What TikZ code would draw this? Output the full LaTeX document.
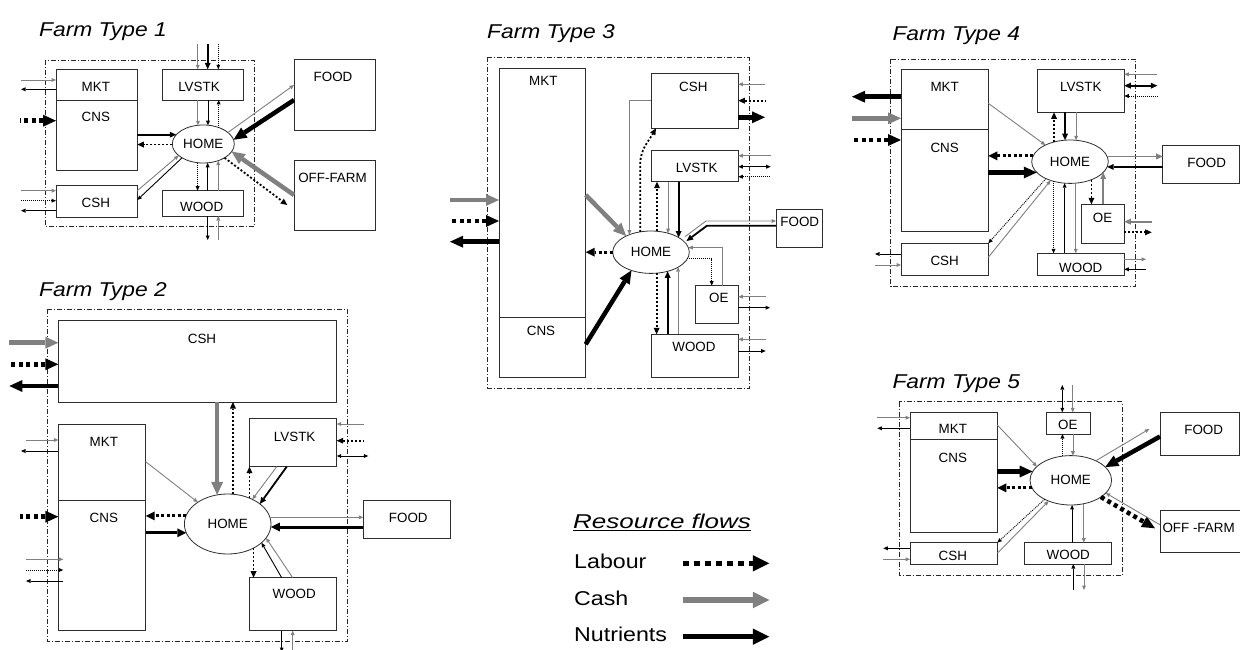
\documentclass[tikz,border=0pt]{standalone}
\usepackage{fontspec}
\setmainfont{Liberation Sans}
\usepackage{graphicx}
\usetikzlibrary{arrows.meta,shapes.geometric}
\definecolor{cashgrey}{RGB}{128,128,128}
\definecolor{boxline}{RGB}{45,45,45}
\newcommand{\boxfont}{\fontsize{13.4}{15}\selectfont}
\newcommand{\ttlfont}{\fontsize{20}{22}\selectfont\itshape}
\newcommand{\keyfont}{\fontsize{20}{22}\selectfont}
\tikzset{
  box/.style={draw=boxline, line width=0.8pt, inner sep=0pt, outer sep=0pt, anchor=north west},
  home/.style={draw=boxline, line width=0.8pt, ellipse, inner sep=0pt, outer sep=0pt, font=\boxfont},
  farm/.style={draw=black!85, line width=0.7pt, dash pattern=on 5pt off 2pt on 1pt off 2pt},
  lbl/.style={font=\boxfont, inner sep=0pt},
  ttl/.style={inner sep=0pt, anchor=base west},
  fine/.style={line width=0.9pt, >={Triangle[length=4.5pt,width=4pt,line width=0pt]}},
  mid/.style={line width=1.8pt, >={Triangle[length=6.5pt,width=6pt,line width=0pt]}},
  bold/.style={line width=3pt, >={Triangle[length=9pt,width=9pt,line width=0pt]}},
  heavy/.style={line width=4.5pt, >={Triangle[length=13pt,width=12pt,line width=0pt]}},
  huge/.style={line width=5.5pt, >={Triangle[length=16.5pt,width=16.5pt,line width=0pt]}},
  dots fine/.style={dash pattern=on 1pt off 1pt},
  dots mid/.style={dash pattern=on 2pt off 2pt},
  dots bold/.style={dash pattern=on 3pt off 2.5pt},
  dots heavy/.style={dash pattern=on 4pt off 3.5pt},
  dots huge/.style={dash pattern=on 6pt off 5pt},
  cash/.style={draw=cashgrey, #1},
  nut/.style={draw=black, #1},
  lab/.style={draw=black, #1, dots #1},
}
\begin{document}
\begin{tikzpicture}[x=1pt,y=1pt,yscale=-1,xscale=1]
\path[fill=white] (0,0) rectangle (1240,650);
\useasboundingbox (0,0) rectangle (1240,650);

% ---------------- Farm Type 1
\node[ttl] (title1) at (39,36.7) {\ttlfont\scalebox{1.14}[1]{Farm Type 1}};
\draw[farm] (45.7,60) rectangle (254,226.7);
\node[box, minimum width=81.3pt, minimum height=30.7pt] (mkt1) at (56,69.3) {};
\node[box, minimum width=81.3pt, minimum height=70.7pt] (cns1) at (mkt1.south west) {};
\node[box, minimum width=81pt, minimum height=30.7pt] (lvstk1) at (162.3,69.3) {};
\node[box, minimum width=81.3pt, minimum height=31.6pt] (csh1) at (56,185.7) {};
\node[box, minimum width=81pt, minimum height=25.3pt] (wood1) at (162.3,190.7) {};
\node[box, minimum width=81pt, minimum height=70.7pt] (food1) at (294,59.3) {};
\node[box, minimum width=81pt, minimum height=70pt] (off1) at (294,160.7) {};
\node[home, minimum width=62pt, minimum height=38pt] (home1) at (203.3,144) {HOME};
% Text Node
\node[lbl] (lmkt1) at (95.8,86.7) {MKT};
\node[lbl] (lcns1) at (95.8,116.7) {CNS};
\node[lbl] (llvstk1) at (199,86.7) {LVSTK};
\node[lbl] (lcsh1) at (95.8,202.7) {CSH};
\node[lbl] (lwood1) at (201.7,207) {WOOD};
\node[lbl] (lfood1) at (333,76.7) {FOOD};
\node[lbl] (loff1) at (332.5,177.7) {OFF-FARM};
% flows
\draw[cash=fine,<-] (mkt1.west |- 0,80) -- (21,80);
\draw[nut=fine,->] (mkt1.west |- 0,89.3) -- (21,89.3);
\draw[lab=heavy,<-] (cns1.west |- 0,120.7) -- (20,120.7);
\draw[cash=fine,<-] (csh1.west |- 0,190.7) -- (21,190.7);
\draw[lab=fine,<-] (csh1.west |- 0,200.7) -- (21,200.7);
\draw[nut=fine,->] (csh1.west |- 0,210.7) -- (21,210.7);
\draw[nut=mid,->] (cns1.east |- home1.161.8) -- (home1.161.8);
\draw[lab=mid,->] (home1.181.9) -- (cns1.east |- home1.181.9);
\draw[cash=fine,->] (csh1.east |- 0,190.7) -- (home1.205.5);
\draw[nut=fine,->] (home1.213) -- (csh1.east |- 0,200);
\draw[cash=fine,<-] (lvstk1.north -| 197.7,0) -- (197.7,44);
\draw[nut=mid,<-] (lvstk1.north -| 207.7,0) -- (207.7,44);
\draw[lab=fine,<-] (lvstk1.north -| 218.3,0) -- (218.3,44);
\draw[cash=fine,->] (lvstk1.south -| home1.106.7) -- (home1.106.7);
\draw[nut=fine,->] (lvstk1.south -| home1.76.8) -- (home1.76.8);
\draw[lab=fine,->] (home1.47.9) -- (lvstk1.south -| home1.47.9);
\draw[lab=fine,->] (home1.253.3) -- (wood1.north -| home1.253.3);
\draw[nut=fine,->] (wood1.north -| home1.283.2) -- (home1.283.2);
\draw[cash=fine,->] (wood1.north -| home1.312.1) -- (home1.312.1);
\draw[nut=fine,->] (wood1.south -| 207.7,0) -- (207.7,240);
\draw[cash=fine,<-] (wood1.south -| 218.3,0) -- (218.3,240);
\draw[cash=fine,->] (home1.25) -- (food1.west |- 0,85);
\draw[nut=heavy,->] (food1.west |- 0,100) -- (home1.8);
\draw[cash=heavy,->] (off1.west |- 0,195) -- (home1.345);
\draw[lab=mid,->] (home1.327) -- (287.3,205);

% ---------------- Farm Type 2
\node[ttl] (title2) at (39,296.7) {\ttlfont\scalebox{1.14}[1]{Farm Type 2}};
\draw[farm] (47.7,309.3) rectangle (347.3,641.7);
\node[box, minimum width=278.4pt, minimum height=81.3pt] (csh2) at (58.3,320.7) {};
\node[box, minimum width=87.4pt, minimum height=76pt] (mkt2) at (58.3,424) {};
\node[box, minimum width=87.4pt, minimum height=130pt] (cns2) at (mkt2.south west) {};
\node[box, minimum width=87.4pt, minimum height=48.4pt] (lvstk2) at (249.3,418.3) {};
\node[box, minimum width=87.4pt, minimum height=53pt] (wood2) at (249.3,577.7) {};
\node[box, minimum width=86.7pt, minimum height=38.3pt] (food2) at (363.3,500) {};
\node[home, minimum width=86.6pt, minimum height=60pt] (home2) at (227.7,524) {HOME};
% Text Node
\node[lbl] (lcsh2) at (202,339) {CSH};
\node[lbl] (lmkt2) at (103.8,442) {MKT};
\node[lbl] (lcns2) at (103.8,518) {CNS};
\node[lbl] (llvstk2) at (294.7,437) {LVSTK};
\node[lbl] (lwood2) at (294.2,593.5) {WOOD};
\node[lbl] (lfood2) at (408.3,517.8) {FOOD};
% flows
\draw[cash=heavy,<-] (csh2.west |- 0,342.7) -- (9.3,342.7);
\draw[lab=heavy,<-] (csh2.west |- 0,364.3) -- (9.3,364.3);
\draw[nut=heavy,->] (csh2.west |- 0,386) -- (9.3,386);
\draw[cash=fine,<-] (mkt2.west |- 0,440) -- (26,440);
\draw[nut=fine,->] (mkt2.west |- 0,451) -- (21,451);
\draw[lab=heavy,<-] (cns2.west |- 0,516.7) -- (20,516.7);
\draw[cash=fine,->] (26,559.3) -- (63.3,559.3);
\draw[lab=fine,->] (26,570) -- (63.3,570);
\draw[nut=fine,<-] (26,581) -- (63.3,581);
\draw[cash=fine,->] (mkt2.east |- 0,461.7) -- (home2.144);
\draw[lab=bold,->] (home2.169.1) -- (cns2.east |- home2.169.1);
\draw[nut=bold,->] (cns2.east |- home2.192.7) -- (home2.192.7);
\draw[cash=heavy,->] (csh2.south -| home2.110.4) -- (home2.110.4);
\draw[lab=mid,->] (home2.80.5) -- (csh2.south -| home2.80.5);
\draw[lab=mid,->] (home2.50.3) -- (lvstk2.south -| home2.50.3);
\draw[cash=fine,->] (lvstk2.south -| 276.7,0) -- (home2.45);
\draw[nut=mid,->] (lvstk2.south -| 286.7,0) -- (home2.32);
\draw[cash=fine,<-] (lvstk2.east |- 0,424) -- (364,424);
\draw[lab=mid,<-] (lvstk2.east |- 0,440.7) -- (364,440.7);
\draw[nut=fine,<->] (lvstk2.east |- 0,456) -- (368.3,456);
\draw[cash=fine,->] (home2.9.9) -- (food2.west |- home2.9.9);
\draw[nut=bold,->] (food2.west |- home2.356.4) -- (home2.356.4);
\draw[lab=mid,->] (home2.317.9) -- (wood2.north -| home2.317.9);
\draw[nut=fine,->] (wood2.north -| 281.7,0) -- (home2.331.7);
\draw[cash=fine,->] (wood2.north -| 292.7,0) -- (home2.340.3);
\draw[nut=fine,->] (wood2.south -| 281.7,0) -- (281.7,652);
\draw[cash=fine,<-] (wood2.south -| 292.7,0) -- (292.7,652);

% ---------------- Farm Type 3
\node[ttl] (title3) at (487,39) {\ttlfont\scalebox{1.14}[1]{Farm Type 3}};
\draw[farm] (487.7,57.3) rectangle (749,388.3);
\node[box, minimum width=86.7pt, minimum height=249.4pt] (mkt3) at (499,68.3) {};
\node[box, minimum width=86.7pt, minimum height=59.6pt] (cns3) at (mkt3.south west) {};
\node[box, minimum width=87.3pt, minimum height=55pt] (csh3) at (651,73.3) {};
\node[box, minimum width=87.3pt, minimum height=31.7pt] (lvstk3) at (651,150) {};
\node[box, minimum width=43.3pt, minimum height=37.6pt] (oe3) at (695,285.7) {};
\node[box, minimum width=87.3pt, minimum height=43.4pt] (wood3) at (651,334.3) {};
\node[box, minimum width=46.7pt, minimum height=38pt] (food3) at (776,209.3) {};
\node[home, minimum width=76.6pt, minimum height=42.4pt] (home3) at (651,252.2) {HOME};
% Text Node
\node[lbl] (lmkt3) at (543.3,81.3) {MKT};
\node[lbl] (lcns3) at (541,331.2) {CNS};
\node[lbl] (lcsh3) at (693.3,87.2) {CSH};
\node[lbl] (llvstk3) at (696.7,168) {LVSTK};
\node[lbl] (loe3) at (718.8,298.3) {OE};
\node[lbl] (lwood3) at (694,347) {WOOD};
\node[lbl] (lfood3) at (799.8,222) {FOOD};
% flows
\draw[cash=heavy,<-] (mkt3.west |- 0,200) -- (450,200);
\draw[lab=heavy,<-] (mkt3.west |- 0,221) -- (450,221);
\draw[nut=heavy,->] (mkt3.west |- 0,241.7) -- (450,241.7);
\draw[cash=heavy,->] (mkt3.east |- 0,195) -- (home3.147.1);
\draw[lab=bold,->] (home3.180) -- (mkt3.east |- home3.180);
\draw[nut=heavy,->] (cns3.east |- 0,344.3) -- (home3.223.2);
\draw[cash=fine,->] (csh3.west |- 0,100.7) -| (home3.141.1);
\draw[lab=mid,->] (home3.118.4) -- (home3.118.4 |- 0,165) to[out=-90,in=120] (csh3.south -| 656,0);
\draw[lab=mid,->] (home3.74.8) -- (lvstk3.south -| home3.74.8);
\draw[cash=fine,->] (lvstk3.south -| home3.48.8) -- (home3.48.8);
\draw[nut=mid,->] (lvstk3.south -| home3.28.6) -- (home3.28.6);
\draw[cash=fine,<-] (csh3.east |- 0,84.3) -- (765,84.3);
\draw[lab=mid,<-] (csh3.east |- 0,100.7) -- (765,100.7);
\draw[nut=heavy,->] (csh3.east |- 0,117.3) -- (765,117.3);
\draw[cash=fine,<-] (lvstk3.east |- 0,155.7) -- (770.7,155.7);
\draw[nut=fine,<->] (lvstk3.east |- 0,166.7) -- (770.7,166.7);
\draw[lab=fine,<-] (lvstk3.east |- 0,176.7) -- (770.7,176.7);
\draw[cash=fine,->] (685,236.7) -- (706,221) -- (food3.west |- 0,221);
\draw[nut=mid,->] (food3.west |- 0,225.7) -- (707,225.7) -- (686.5,241);
\draw[cash=fine,->] (oe3.north -| 722.7,0) |- (home3.7.5);
\draw[lab=fine,->] (home3.350.6) -| (oe3.north -| 711.7,0);
\draw[cash=fine,<-] (oe3.east |- 0,296.7) -- (765.7,296.7);
\draw[nut=fine,->] (oe3.east |- 0,307.7) -- (770,307.7);
\draw[lab=mid,->] (home3.285.2) -- (wood3.north -| home3.285.2);
\draw[nut=mid,->] (wood3.north -| home3.311.2) -- (home3.311.2);
\draw[cash=fine,->] (wood3.north -| home3.331.4) -- (home3.331.4);
\draw[cash=fine,<-] (wood3.east |- 0,339.3) -- (765.7,339.3);
\draw[nut=fine,->] (wood3.east |- 0,351) -- (765.7,351);

% ---------------- Farm Type 4
\node[ttl] (title4) at (892.3,40.5) {\ttlfont\scalebox{1.14}[1]{Farm Type 4}};
\draw[farm] (890.7,59) rectangle (1135.7,286.7);
\node[box, minimum width=87.3pt, minimum height=59.7pt] (mkt4) at (901,69.3) {};
\node[box, minimum width=87.3pt, minimum height=102.7pt] (cns4) at (mkt4.south west) {};
\node[box, minimum width=87.3pt, minimum height=31.7pt] (csh4) at (901,243.3) {};
\node[box, minimum width=87pt, minimum height=43pt] (lvstk4) at (1037.3,69.3) {};
\node[box, minimum width=43.3pt, minimum height=39pt] (oe4) at (1081,204.3) {};
\node[box, minimum width=87pt, minimum height=22.4pt] (wood4) at (1037.3,253.3) {};
\node[box, minimum width=76.8pt, minimum height=37.6pt] (food4) at (1162.7,145.7) {};
\node[home, minimum width=76.6pt, minimum height=43.4pt] (home4) at (1070,161.7) {HOME};
% Text Node
\node[lbl] (lmkt4) at (944.7,86.7) {MKT};
\node[lbl] (lcns4) at (944.7,147.7) {CNS};
\node[lbl] (lcsh4) at (944.7,260.5) {CSH};
\node[lbl] (llvstk4) at (1080.8,87) {LVSTK};
\node[lbl] (loe4) at (1102.5,218.3) {OE};
\node[lbl] (lwood4) at (1080.8,267.5) {WOOD};
\node[lbl] (lfood4) at (1206.7,163) {FOOD};
% flows
\draw[nut=heavy,->] (mkt4.west |- 0,96.7) -- (852,96.7);
\draw[cash=heavy,<-] (mkt4.west |- 0,118.3) -- (852,118.3);
\draw[lab=heavy,<-] (cns4.west |- 0,140) -- (852,140);
\draw[cash=fine,->] (mkt4.east |- 0,103.3) -- (home4.146);
\draw[lab=bold,->] (home4.171.2) -- (cns4.east |- home4.171.2);
\draw[nut=heavy,->] (cns4.east |- home4.198.4) -- (home4.198.4);
\draw[lab=fine,->] (home4.215.4) -- (csh4.north east);
\draw[cash=fine,->] (csh4.east |- 0,257.3) -- (home4.224.1);
\draw[nut=fine,->] (csh4.west |- 0,254) -- (875,254);
\draw[cash=fine,<-] (csh4.west |- 0,265) -- (875,265);
\draw[lab=mid,->] (home4.129.1) -- (lvstk4.south -| home4.129.1);
\draw[nut=mid,->] (lvstk4.south -| home4.103.1) -- (home4.103.1);
\draw[cash=fine,->] (lvstk4.south -| home4.74.3) -- (home4.74.3);
\draw[cash=fine,<-] (lvstk4.east |- 0,74.3) -- (1157.3,74.3);
\draw[nut=mid,<->] (lvstk4.east |- 0,85.7) -- (1157.3,85.7);
\draw[lab=fine,<-] (lvstk4.east |- 0,96) -- (1157.3,96);
\draw[cash=mid,->] (home4.8.8) -- (food4.west |- home4.8.8);
\draw[nut=mid,->] (food4.west |- home4.352.4) -- (home4.352.4);
\draw[lab=mid,->] (home4.320.5) -- (oe4.north -| home4.320.5);
\draw[cash=mid,->] (oe4.north -| home4.342.2) -- (home4.342.2);
\draw[cash=mid,<-] (oe4.east |- 0,221.7) -- (1151.7,221.7);
\draw[lab=mid,->] (oe4.east |- 0,232.3) -- (1151.7,232.3);
\draw[lab=fine,->] (home4.230.9) -- (wood4.north -| home4.230.9);
\draw[nut=fine,->] (wood4.north -| home4.256.9) -- (home4.256.9);
\draw[cash=fine,->] (home4.285.7) -- (wood4.north -| home4.285.7);
\draw[cash=fine,->] (wood4.east |- 0,259.3) -- (1146,259.3);
\draw[nut=fine,<-] (wood4.east |- 0,269.3) -- (1146,269.3);

% ---------------- Farm Type 5
\node[ttl] (title5) at (892.3,388.3) {\ttlfont\scalebox{1.14}[1]{Farm Type 5}};
\draw[farm] (899,401.7) rectangle (1122.3,575);
\node[box, minimum width=87.3pt, minimum height=27pt] (mkt5) at (910,412.3) {};
\node[box, minimum width=87.3pt, minimum height=93pt] (cns5) at (mkt5.south west) {};
\node[box, minimum width=87.3pt, minimum height=21.3pt] (csh5) at (910,542.7) {};
\node[box, minimum width=44pt, minimum height=21.7pt] (oe5) at (1046,412.3) {};
\node[box, minimum width=87.4pt, minimum height=21.3pt] (wood5) at (1024.3,542.7) {};
\node[box, minimum width=79pt, minimum height=43.4pt] (food5) at (1160,412.3) {};
\node[box, minimum width=85pt, minimum height=42pt] (off5) at (1160,510.7) {};
\node[home, minimum width=81.6pt, minimum height=49.4pt] (home5) at (1070.8,480.3) {HOME};
% Text Node
\node[lbl] (lmkt5) at (952.8,429) {MKT};
\node[lbl] (lcns5) at (952.8,458.3) {CNS};
\node[lbl] (lcsh5) at (952.8,555.7) {CSH};
\node[lbl] (loe5) at (1067.8,425) {OE};
\node[lbl] (lwood5) at (1068.3,555) {WOOD};
\node[lbl] (lfood5) at (1203.7,430.3) {FOOD};
\node[lbl, anchor=west] (loff5) at (1162.3,528) {OFF -FARM};
% flows
\draw[cash=fine,<-] (mkt5.west |- 0,417.7) -- (877.3,417.7);
\draw[nut=fine,->] (mkt5.west |- 0,428.3) -- (877.3,428.3);
\draw[cash=fine,->] (mkt5.east |- 0,425) -- (home5.158.2);
\draw[nut=heavy,->] (cns5.east |- home5.167.3) -- (home5.167.3);
\draw[lab=bold,->] (home5.191.7) -- (cns5.east |- home5.191.7);
\draw[lab=fine,->] (home5.216.3) -- (csh5.north east);
\draw[cash=fine,->] (csh5.east |- 0,553.3) -- (home5.223.8);
\draw[nut=fine,->] (csh5.west |- 0,548.3) -- (883.3,548.3);
\draw[cash=fine,<-] (csh5.west |- 0,559.3) -- (883.3,559.3);
\draw[nut=fine,<->] (oe5.north -| 1062.3,0) -- (1062.3,385);
\draw[cash=fine,<-] (oe5.north -| 1072.7,0) -- (1072.7,385);
\draw[lab=fine,->] (home5.109.4) -- (oe5.south -| home5.109.4);
\draw[cash=fine,->] (oe5.south -| home5.85.6) -- (home5.85.6);
\draw[cash=fine,->] (home5.38.8) -- (1149.3,429);
\draw[nut=heavy,->] (food5.west |- 0,436.5) -- (home5.21.7);
\draw[lab=heavy,->] (home5.331.2) -- (1155,528.3);
\draw[cash=fine,->] (off5.west |- 0,524.8) -- (home5.340.2);
\draw[nut=fine,->] (wood5.north -| home5.273.5) -- (home5.273.5);
\draw[cash=fine,->] (home5.299.4) -- (wood5.north -| home5.299.4);
\draw[nut=fine,<-] (wood5.south -| 1073.3,0) -- (1073.3,590);
\draw[cash=fine,->] (wood5.south -| 1084,0) -- (1084,590);

% ---------------- Resource flows
\node[ttl] (keytitle) at (573,528.3) {\ttlfont\underline{\scalebox{1.3}[1]{Resource flows}}};
\node[ttl] (klabour) at (574,568.3) {\keyfont\scalebox{1.16}[1]{Labour}};
\node[ttl] (kcash) at (574,605) {\keyfont\scalebox{1.16}[1]{Cash}};
\node[ttl] (knutr) at (574,641.7) {\keyfont\scalebox{1.16}[1]{Nutrients}};
\draw[lab=huge,->] (682.7,563.3) -- (769.3,563.3);
\draw[cash=huge,->] (682.7,600) -- (769.3,600);
\draw[nut=huge,->] (682.7,636.7) -- (769.3,636.7);
\end{tikzpicture}
\end{document}
